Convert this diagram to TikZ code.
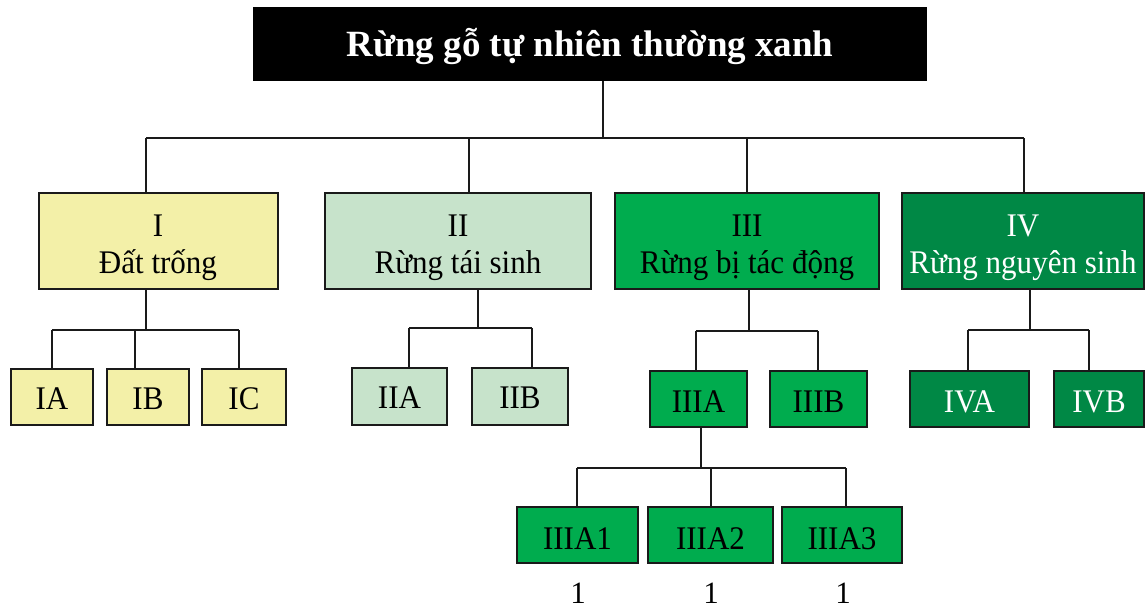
\documentclass[tikz,border=0pt]{standalone}
\usepackage{fontspec}
\setmainfont{Liberation Serif}
\newfontfamily\boxfont[FakeStretch=0.94]{Liberation Serif}
\definecolor{cI}{HTML}{F3F0A8}
\definecolor{cII}{HTML}{C7E3CB}
\definecolor{cIII}{HTML}{00AC4E}
\definecolor{cIV}{HTML}{008845}
\definecolor{edge}{HTML}{1A1A1A}
\tikzset{
  conn/.style={draw=edge,line width=2pt},
  bx/.style={draw=edge,line width=2pt,inner sep=0pt,outer sep=0pt,rectangle},
  lbl/.style={anchor=base,inner sep=0pt,outer sep=0pt,font=\boxfont\fontsize{33}{33}\selectfont},
  num/.style={anchor=base,inner sep=0pt,outer sep=0pt,font=\fontsize{31}{31}\selectfont},
  ttl/.style={anchor=base,inner sep=0pt,outer sep=0pt,text=white,font=\bfseries\fontsize{37}{37}\selectfont},
}
% box: name, x1, y1, x2, y2, fill
\newcommand{\mybox}[6]{\node[bx,fill=#6,minimum width={#4-#2},minimum height={#5-#3}] (#1) at ({(#2+#4)/2},{(#3+#5)/2}) {};}
\begin{document}
\begin{tikzpicture}[x=1pt,y=-1pt]
\useasboundingbox (0,0) rectangle (1146,608);

% title
\node[inner sep=0pt,outer sep=0pt,fill=black,minimum width=674pt,minimum height=74pt] (T) at (590,44) {};
\node[ttl] (Tt) at (590,56) {Rừng gỗ tự nhiên thường xanh};

% level 1
\mybox{I}{39}{193}{278}{289}{cI}
\node[lbl] (It1) at (158,236) {I};
\node[lbl] (It2) at (158,273) {Đất trống};
\mybox{II}{325}{193}{591}{289}{cII}
\node[lbl] (IIt1) at (458,236) {II};
\node[lbl] (IIt2) at (458,273) {Rừng tái sinh};
\mybox{III}{615}{193}{879}{289}{cIII}
\node[lbl] (IIIt1) at (747,236) {III};
\node[lbl] (IIIt2) at (747,273) {Rừng bị tác động};
\mybox{IV}{902}{193}{1144}{289}{cIV}
\node[lbl,text=white] (IVt1) at (1023,236) {IV};
\node[lbl,text=white] (IVt2) at (1023,273) {Rừng nguyên sinh};

% level 2
\mybox{IA}{11}{369}{93}{425}{cI}
\node[lbl] at (IA.center) [yshift=-12pt] (IAt) {IA};
\mybox{IB}{107}{369}{189}{425}{cI}
\node[lbl] at (IB.center) [yshift=-12pt] (IBt) {IB};
\mybox{IC}{202}{369}{286}{425}{cI}
\node[lbl] at (IC.center) [yshift=-12pt] (ICt) {IC};

\mybox{IIA}{352}{368}{447}{425}{cII}
\node[lbl] at (IIA.center) [yshift=-12pt] (IIAt) {IIA};
\mybox{IIB}{472}{368}{568}{425}{cII}
\node[lbl] at (IIB.center) [yshift=-12pt] (IIBt) {IIB};

\mybox{IIIA}{650}{371}{747}{427}{cIII}
\node[lbl] at (IIIA.center) [yshift=-13pt] (IIIAt) {IIIA};
\mybox{IIIB}{770}{371}{867}{427}{cIII}
\node[lbl] at (IIIB.center) [yshift=-13pt] (IIIBt) {IIIB};

\mybox{IVA}{910}{371}{1029}{427}{cIV}
\node[lbl,text=white] at (IVA.center) [yshift=-13pt] (IVAt) {IVA};
\mybox{IVB}{1054}{371}{1144}{427}{cIV}
\node[lbl,text=white] at (IVB.center) [yshift=-13pt] (IVBt) {IVB};

% level 3
\mybox{IIIAa}{517}{507}{638}{563}{cIII}
\node[lbl] at (IIIAa.center) [yshift=-14pt] (IIIAat) {IIIA1};
\mybox{IIIAb}{648}{507}{773}{563}{cIII}
\node[lbl] at (IIIAb.center) [yshift=-14pt] (IIIAbt) {IIIA2};
\mybox{IIIAc}{782}{507}{902}{563}{cIII}
\node[lbl] at (IIIAc.center) [yshift=-14pt] (IIIAct) {IIIA3};

\node[num] (n1) at (578,603) {1};
\node[num] (n2) at (711,603) {1};
\node[num] (n3) at (843,603) {1};

% connectors: title
\coordinate (b0) at (603,138);
\coordinate (bI) at (146,138);
\coordinate (bII) at (469,138);
\coordinate (bIII) at (747,138);
\coordinate (bIV) at (1024,138);
\draw[conn] (T.south -| b0) -- (b0);
\draw[conn] (bI) -- (bIV);
\draw[conn] (bI) -- (I.north -| bI);
\draw[conn] (bII) -- (II.north -| bII);
\draw[conn] (bIII) -- (III.north -| bIII);
\draw[conn] (bIV) -- (IV.north -| bIV);

% connectors: I
\coordinate (cI0) at (146,330);
\coordinate (cIa) at (52,330);
\coordinate (cIb) at (135,330);
\coordinate (cIc) at (239,330);
\draw[conn] (I.south -| cI0) -- (cI0);
\draw[conn] (cIa) -- (cIc);
\draw[conn] (cIa) -- (IA.north -| cIa);
\draw[conn] (cIb) -- (IB.north -| cIb);
\draw[conn] (cIc) -- (IC.north -| cIc);

% connectors: II
\coordinate (cII0) at (478,328);
\coordinate (cIIa) at (409,328);
\coordinate (cIIb) at (532,328);
\draw[conn] (II.south -| cII0) -- (cII0);
\draw[conn] (cIIa) -- (cIIb);
\draw[conn] (cIIa) -- (IIA.north -| cIIa);
\draw[conn] (cIIb) -- (IIB.north -| cIIb);

% connectors: III
\coordinate (cIII0) at (749,331);
\coordinate (cIIIa) at (696,331);
\coordinate (cIIIb) at (818,331);
\draw[conn] (III.south -| cIII0) -- (cIII0);
\draw[conn] (cIIIa) -- (cIIIb);
\draw[conn] (cIIIa) -- (IIIA.north -| cIIIa);
\draw[conn] (cIIIb) -- (IIIB.north -| cIIIb);

% connectors: IV
\coordinate (cIV0) at (1030,330);
\coordinate (cIVa) at (968,330);
\coordinate (cIVb) at (1089,330);
\draw[conn] (IV.south -| cIV0) -- (cIV0);
\draw[conn] (cIVa) -- (cIVb);
\draw[conn] (cIVa) -- (IVA.north -| cIVa);
\draw[conn] (cIVb) -- (IVB.north -| cIVb);

% connectors: IIIA
\coordinate (cA0) at (701,468);
\coordinate (cAa) at (577,468);
\coordinate (cAb) at (711,468);
\coordinate (cAc) at (846,468);
\draw[conn] (IIIA.south -| cA0) -- (cA0);
\draw[conn] (cAa) -- (cAc);
\draw[conn] (cAa) -- (IIIAa.north -| cAa);
\draw[conn] (cAb) -- (IIIAb.north -| cAb);
\draw[conn] (cAc) -- (IIIAc.north -| cAc);
\end{tikzpicture}
\end{document}
